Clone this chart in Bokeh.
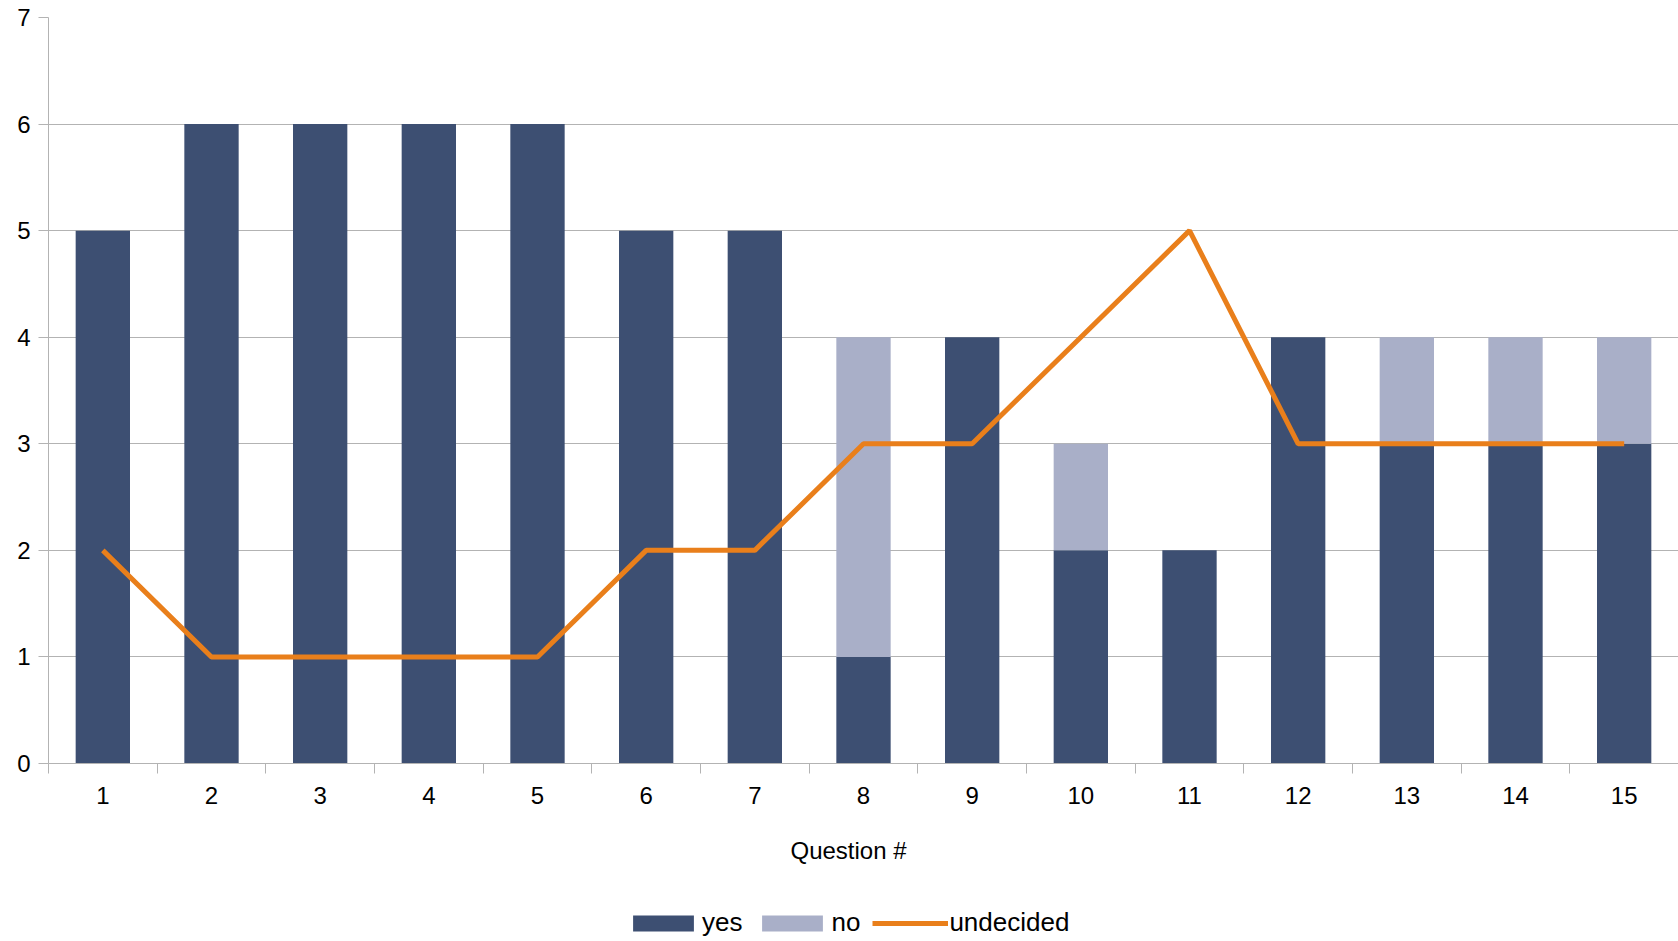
from bokeh.plotting import figure
from bokeh.layouts import column
from bokeh.models import ColumnDataSource, FixedTicker, Legend, LegendItem, Range1d, Label
from bokeh.embed import file_html
from bokeh.resources import INLINE

questions = list(range(1, 16))
yes = [5, 6, 6, 6, 6, 5, 5, 1, 4, 2, 2, 4, 3, 3, 3]
no = [0, 0, 0, 0, 0, 0, 0, 3, 0, 1, 0, 0, 1, 1, 1]
undecided = [2, 1, 1, 1, 1, 2, 2, 3, 3, 4, 5, 3, 3, 3, 3]
y_ticks = [0, 1, 2, 3, 4, 5, 6, 7]
series_names = ["yes", "no", "undecided"]
x_title = "Question #"

FONT = "Liberation Sans"
GRID = "#b3b3b3"
C_YES = "#3d4f72"
C_NO = "#a9afc8"
C_UND = "#e97f1b"

src = ColumnDataSource(dict(
    x=questions,
    yes=yes,
    no_top=[a + b for a, b in zip(yes, no)],
    undecided=undecided,
))

p = figure(width=1678, height=820, output_backend="svg", toolbar_location=None,
           x_range=Range1d(0.5, 15.5), y_range=Range1d(0, 7),
           min_border_left=48, min_border_right=0, min_border_top=17, min_border_bottom=57)
p.outline_line_color = None

p.vbar(x="x", top="yes", bottom=0, width=0.5, source=src,
       fill_color=C_YES, line_color=None)
p.vbar(x="x", top="no_top", bottom="yes", width=0.5, source=src,
       fill_color=C_NO, line_color=None)
p.line(x="x", y="undecided", source=src, line_color=C_UND, line_width=5)

# axes
p.xaxis.ticker = FixedTicker(ticks=questions, minor_ticks=[q - 0.5 for q in questions] + [15.5])
p.xaxis.major_tick_line_color = None
p.xaxis.minor_tick_line_color = GRID
p.xaxis.minor_tick_out = 10
p.xaxis.minor_tick_in = 0
p.xaxis.axis_line_color = GRID
p.xaxis.major_label_text_font = FONT
p.xaxis.major_label_text_font_size = "24px"
p.xaxis.major_label_text_color = "#000000"
p.xaxis.major_label_standoff = 13

p.yaxis.ticker = FixedTicker(ticks=y_ticks)
p.yaxis.minor_tick_line_color = None
p.yaxis.major_tick_line_color = GRID
p.yaxis.major_tick_out = 10
p.yaxis.major_tick_in = 0
p.yaxis.axis_line_color = GRID
p.yaxis.major_label_text_font = FONT
p.yaxis.major_label_text_font_size = "24px"
p.yaxis.major_label_text_color = "#000000"
p.yaxis.major_label_standoff = 8

p.xgrid.grid_line_color = None
p.ygrid.grid_line_color = GRID
p.ygrid.grid_line_width = 1

# strip below the chart: x-axis title and legend
lg = figure(width=1678, height=121, output_backend="svg", toolbar_location=None,
            x_range=Range1d(0, 1), y_range=Range1d(0, 1),
            min_border=0, min_border_left=0, min_border_right=0,
            min_border_top=0, min_border_bottom=0)
lg.outline_line_color = None
lg.axis.visible = False
lg.grid.visible = False
l_yes = lg.vbar(x=[5], top=[5], bottom=[4], width=0.5, fill_color=C_YES, line_color=None)
l_no = lg.vbar(x=[5], top=[5], bottom=[4], width=0.5, fill_color=C_NO, line_color=None)
l_und = lg.line(x=[5, 6], y=[5, 5], line_color=C_UND, line_width=5)

lg.add_layout(Label(x=800, y=91, x_units="screen", y_units="screen", text=x_title,
                    text_font=FONT, text_font_size="24px", text_color="#000000",
                    text_align="center", text_baseline="middle"))

legend = Legend(items=[
    LegendItem(label=series_names[0], renderers=[l_yes]),
    LegendItem(label=series_names[1], renderers=[l_no]),
    LegendItem(label=series_names[2], renderers=[l_und]),
], orientation="horizontal", location=(577, 3))
legend.label_text_font = FONT
legend.label_text_font_size = "26px"
legend.label_text_color = "#000000"
legend.glyph_width = 76
legend.glyph_height = 20
legend.label_standoff = 1
legend.spacing = 12
legend.border_line_color = None
legend.background_fill_alpha = 0
legend.padding = 2
legend.margin = 0
lg.add_layout(legend, "center")

layout = column(p, lg, spacing=0)
open("out.html", "w").write(file_html(layout, INLINE))
